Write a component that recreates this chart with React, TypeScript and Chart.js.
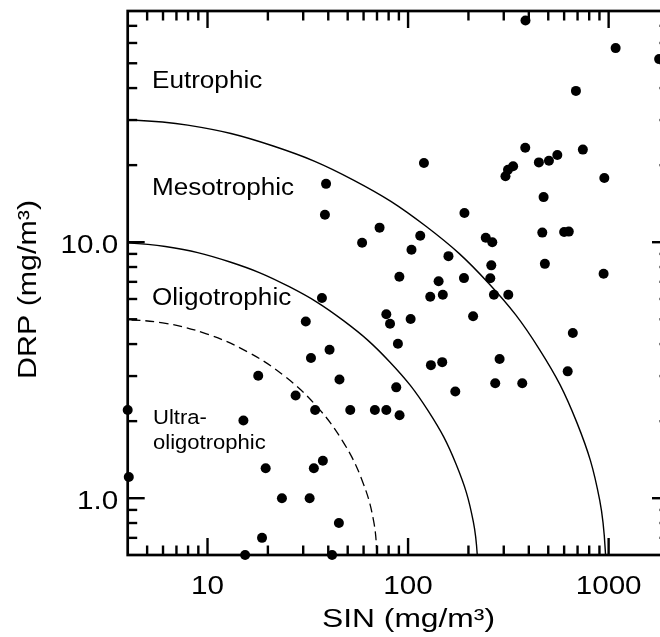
import React, { useEffect, useRef } from "react";
import { Chart, registerables } from "chart.js";

Chart.register(...registerables);

// ---- Data ----
const sinValues = [
  15.4, 18.7, 17.9, 27.5, 32.8, 40.6, 45.5, 34.4, 51.5, 15.1,
  4.0, 4.05, 19.5, 33.9, 37.6, 23.5, 32.3, 45.2, 41.8, 30.9,
  39.0, 38.5, 59.0, 37.2, 385, 1084, 1786, 687, 384, 744,
  449, 504, 555, 334, 315, 306, 120, 952, 474, 191,
  72.1, 115, 104, 467, 600, 633, 159, 244, 263, 260,
  257, 90.5, 142, 190, 481, 944, 129, 149, 268, 316,
  77.9, 81.3, 103, 211, 89.0, 663, 130, 148, 286, 625,
  87.3, 68.3, 77.9, 90.7, 172, 272, 371,
];
const drpValues = [
  0.60, 0.70, 3.01, 2.52, 3.53, 3.80, 2.91, 2.21, 2.21, 2.01,
  2.21, 1.21, 1.31, 1.31, 1.40, 1.00, 1.00, 0.80, 0.60, 4.90,
  16.9, 12.8, 9.95, 6.05, 73.5, 57.3, 51.9, 39.0, 23.4, 23.0,
  20.5, 20.8, 21.9, 19.8, 19.2, 18.1, 20.4, 17.8, 15.0, 13.0,
  11.4, 10.6, 9.34, 10.9, 10.96, 11.0, 8.82, 10.4, 10.0, 8.12,
  7.23, 7.33, 7.04, 7.24, 8.23, 7.53, 6.12, 6.23, 6.23, 6.23,
  5.23, 4.80, 5.01, 5.14, 4.01, 4.42, 3.31, 3.40, 3.50, 3.13,
  2.71, 2.21, 2.21, 2.11, 2.61, 2.81, 2.81,
];

// Eutrophic / Mesotrophic boundary
const eutroSin = [2.893, 7.963, 21.26, 53.42, 122.8, 252.0, 451.6, 693.9, 902.6, 986.3];
const eutroDrp = [30.54, 28.67, 23.76, 17.49, 11.54, 6.913, 3.816, 1.978, 0.982, 0.477];
// Mesotrophic / Oligotrophic boundary
const mesoSin = [2.893, 6.166, 12.84, 25.56, 47.64, 81.52, 126.0, 173.8, 211.5, 226.0];
const mesoDrp = [10.08, 9.624, 8.386, 6.699, 4.937, 3.390, 2.193, 1.354, 0.810, 0.477];
// Oligotrophic / Ultra-oligotrophic boundary (dashed)
const oligoSin = [3.557, 5.974, 9.879, 15.84, 24.26, 35.06, 47.25, 58.88, 67.36, 70.50];
const oligoDrp = [5.006, 4.842, 4.385, 3.729, 2.994, 2.283, 1.668, 1.179, 0.814, 0.5557];

const xMajorTicks = [10, 100, 1000];
const xTickLabels = ["10", "100", "1000"];
const xMinorTicks = [5, 6, 7, 8, 9, 20, 30, 40, 50, 60, 70, 80, 90, 200, 300, 400, 500, 600, 700, 800, 900];
const yMajorTicks = [1, 10];
const yTickLabels = ["1.0", "10.0"];
const yMinorTicks = [0.7, 0.8, 0.9, 2, 3, 4, 5, 6, 7, 8, 9, 20, 30, 40, 50, 60, 70];

const regionLabels = ["Eutrophic", "Mesotrophic", "Oligotrophic", "Ultra-", "oligotrophic"];
const xTitle = "SIN (mg/m³)";
const yTitle = "DRP (mg/m³)";

const FONT = '"Liberation Sans", Arial, Helvetica, sans-serif';

function drawText(
  ctx: CanvasRenderingContext2D,
  text: string,
  x: number,
  y: number,
  size: number,
  align: CanvasTextAlign,
  stretch: number,
  rotate = false,
  fitWidth = 0
) {
  ctx.save();
  ctx.font = `${size}px ${FONT}`;
  let s = stretch;
  if (fitWidth > 0) {
    const w = ctx.measureText(text).width;
    s = fitWidth / w;
  }
  ctx.translate(x, y);
  if (rotate) ctx.rotate(-Math.PI / 2);
  ctx.scale(s, 1);
  ctx.textAlign = align;
  ctx.textBaseline = "alphabetic";
  ctx.fillStyle = "#000";
  ctx.fillText(text, 0, 0);
  ctx.restore();
}

const framePlugin = {
  id: "frame",
  afterDatasetsDraw(chart: any) {
    const { ctx, chartArea: a, scales } = chart;
    const xs = scales.x;
    const ys = scales.y;
    ctx.save();
    ctx.strokeStyle = "#000";
    const line = (x0: number, y0: number, x1: number, y1: number) => {
      ctx.beginPath();
      ctx.moveTo(x0, y0);
      ctx.lineTo(x1, y1);
      ctx.stroke();
    };
    ctx.lineWidth = 2.4;
    const major = 17;
    const minor = 9.5;
    xMajorTicks.forEach((v) => {
      const p = xs.getPixelForValue(v);
      line(p, a.bottom, p, a.bottom - major);
      line(p, a.top, p, a.top + major);
    });
    xMinorTicks.forEach((v) => {
      const p = xs.getPixelForValue(v);
      line(p, a.bottom, p, a.bottom - minor);
      line(p, a.top, p, a.top + minor);
    });
    yMajorTicks.forEach((v) => {
      const p = ys.getPixelForValue(v);
      line(a.left, p, a.left + major, p);
      line(a.right, p, a.right - major, p);
    });
    yMinorTicks.forEach((v) => {
      const p = ys.getPixelForValue(v);
      line(a.left, p, a.left + minor, p);
      line(a.right, p, a.right - minor, p);
    });
    ctx.lineWidth = 2.7;
    ctx.strokeRect(a.left, a.top, a.right - a.left, a.bottom - a.top);
    ctx.restore();

    // tick labels
    xMajorTicks.forEach((v, i) => {
      drawText(ctx, xTickLabels[i], xs.getPixelForValue(v), a.bottom + 39, 26, "center", 1.14);
    });
    yMajorTicks.forEach((v, i) => {
      drawText(ctx, yTickLabels[i], a.left - 9.5, ys.getPixelForValue(v) + 11, 26, "right", 1.14);
    });

    // region labels
    drawText(ctx, regionLabels[0], 152, 87.5, 23.3, "left", 1.12);
    drawText(ctx, regionLabels[1], 152, 195, 23.3, "left", 1.12);
    drawText(ctx, regionLabels[2], 152, 305, 23.3, "left", 1.12);
    drawText(ctx, regionLabels[3], 153, 424, 19.7, "left", 1.12);
    drawText(ctx, regionLabels[4], 153, 449, 19.7, "left", 1.12);

    // axis titles
    drawText(ctx, xTitle, 408.5, 626.5, 25, "center", 1, false, 173);
    drawText(ctx, yTitle, 35.5, 289.5, 25, "center", 1, true, 179);
  },
};

export default function App() {
  const canvasRef = useRef<HTMLCanvasElement | null>(null);

  useEffect(() => {
    const canvas = canvasRef.current;
    if (!canvas) return;
    const points = sinValues.map((s, i) => ({ x: s, y: drpValues[i] }));
    const curve = (xsArr: number[], ysArr: number[]) => xsArr.map((s, i) => ({ x: s, y: ysArr[i] }));

    const chart = new Chart(canvas, {
      type: "scatter",
      data: {
        datasets: [
          {
            label: "Eutrophic boundary",
            data: curve(eutroSin, eutroDrp),
            showLine: true,
            borderColor: "#000",
            borderWidth: 1.4,
            pointRadius: 0,
            tension: 0.4,
            fill: false,
          },
          {
            label: "Mesotrophic boundary",
            data: curve(mesoSin, mesoDrp),
            showLine: true,
            borderColor: "#000",
            borderWidth: 1.4,
            pointRadius: 0,
            tension: 0.4,
            fill: false,
          },
          {
            label: "Oligotrophic boundary",
            data: curve(oligoSin, oligoDrp),
            showLine: true,
            borderColor: "#000",
            borderWidth: 1.3,
            borderDash: [9, 5],
            pointRadius: 0,
            tension: 0.4,
            fill: false,
          },
          {
            label: "Sites",
            data: points,
            showLine: false,
            pointRadius: 5,
            pointHoverRadius: 5,
            pointBackgroundColor: "#000",
            pointBorderWidth: 0,
            borderColor: "#000",
            clip: false as any,
          },
        ],
      },
      options: {
        animation: false,
        responsive: false,
        devicePixelRatio: 1,
        layout: { padding: { top: 11, right: 11, left: 0, bottom: 0 } },
        plugins: {
          legend: { display: false },
          tooltip: { enabled: false },
          title: { display: false },
        },
        scales: {
          x: {
            type: "logarithmic",
            min: 4,
            max: 2000,
            position: "bottom",
            grid: { display: false },
            border: { display: false },
            ticks: { display: false },
            afterFit: (s: any) => {
              s.height = 82;
            },
          },
          y: {
            type: "logarithmic",
            min: 0.6,
            max: 80,
            position: "left",
            grid: { display: false },
            border: { display: false },
            ticks: { display: false },
            afterFit: (s: any) => {
              s.width = 127.7;
            },
          },
        },
      },
      plugins: [framePlugin],
    });
    return () => chart.destroy();
  }, []);

  return (
    <div
      style={{
        position: "fixed",
        left: 0,
        top: 0,
        width: 660,
        height: 637,
        overflow: "hidden",
        background: "#fff",
      }}
    >
      <canvas ref={canvasRef} width={680} height={637} style={{ width: 680, height: 637, display: "block" }} />
    </div>
  );
}
